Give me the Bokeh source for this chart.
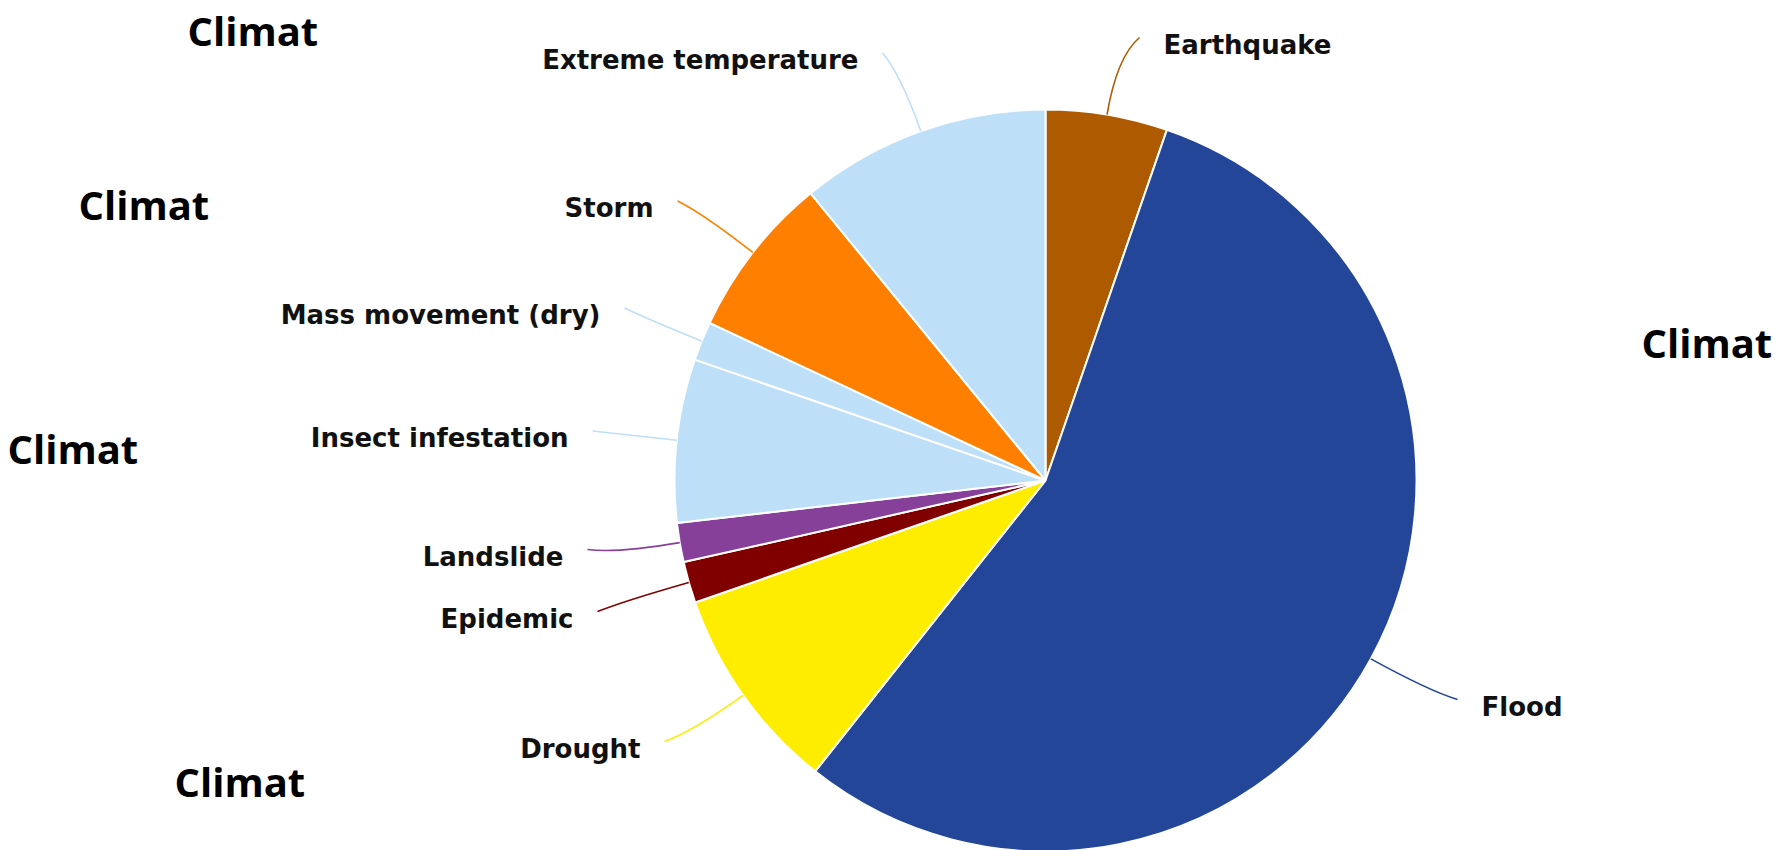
import math
from bokeh.plotting import figure
from bokeh.models import Range1d, ColumnDataSource
from bokeh.core.properties import value
from bokeh.embed import file_html
from bokeh.resources import INLINE

# ---------------- data ----------------
categories = ["Earthquake", "Flood", "Drought", "Epidemic", "Landslide",
              "Insect infestation", "Mass movement (dry)", "Storm",
              "Extreme temperature"]
shares = [5.3, 55.3, 9.0, 1.8, 1.7, 7.1, 1.7, 7.1, 10.9]
slice_colors = ["#AD5A00", "#234698", "#FFED00", "#800000", "#86409A",
                "#BEDFF8", "#BEDFF8", "#FF8000", "#BEDFF8"]

overlay_labels = ["Climat", "Climat", "Climat", "Climat", "Climat"]

# ---------------- layout (screen pixels, y down) ----------------
W, H = 1777, 850
CX, CY, R = 1045, 480, 371

# label anchor x, vertical centre y, alignment
label_x = [1163, 1481, 640, 573, 563, 568, 600, 653, 858]
label_y = [44, 706, 748, 618, 556, 437.5, 314.5, 207.5, 59.5]
label_align = ["left", "left", "right", "right", "right", "right", "right", "right", "right"]
GAP = 24
LEAD_UP = 7

overlay_x = [187, 78, 1641, 7, 174]
overlay_y = [29.5, 204, 341.5, 447.5, 780.5]


def yd(ys):
    return H - ys


p = figure(width=W, height=H, x_range=Range1d(0, W), y_range=Range1d(0, H),
           output_backend="svg", toolbar_location=None,
           x_axis_type=None, y_axis_type=None, min_border=0)
p.outline_line_color = None
p.grid.visible = False
p.background_fill_color = "white"
p.border_fill_color = "white"

total = sum(shares)
starts, ends, mids = [], [], []
cum = 0.0
for v in shares:
    a0 = 2 * math.pi * cum / total
    cum += v
    a1 = 2 * math.pi * cum / total
    starts.append(math.pi / 2 - a0)
    ends.append(math.pi / 2 - a1)
    mids.append((a0 + a1) / 2)

src = ColumnDataSource(dict(start=starts, end=ends, color=slice_colors))
p.wedge(x=CX, y=yd(CY), radius=R, start_angle="start", end_angle="end",
        direction="clock", fill_color="color", line_color="white",
        line_width=2, source=src)

# leader lines
x0s, y0s, x1s, y1s, cxs, cys = [], [], [], [], [], []
for i, m in enumerate(mids):
    dx, dy = math.sin(m), -math.cos(m)  # screen direction (y down)
    sx, sy = CX + R * dx, CY + R * dy
    if label_align[i] == "left":
        ex = label_x[i] - GAP
    else:
        ex = label_x[i] + GAP
    ey = label_y[i] - LEAD_UP
    dist = math.hypot(ex - sx, ey - sy)
    k = 0.7 * dist
    qx, qy = CX + (R + k) * dx, CY + (R + k) * dy
    x0s.append(sx); y0s.append(yd(sy))
    x1s.append(ex); y1s.append(yd(ey))
    cxs.append(qx); cys.append(yd(qy))

lsrc = ColumnDataSource(dict(x0=x0s, y0=y0s, x1=x1s, y1=y1s, cx=cxs, cy=cys,
                             color=slice_colors))
p.quadratic(x0="x0", y0="y0", x1="x1", y1="y1", cx="cx", cy="cy",
            line_color="color", line_width=1.6, source=lsrc)

# slice labels
tsrc = ColumnDataSource(dict(x=label_x, y=[yd(v) for v in label_y],
                             text=categories, align=label_align))
p.text(x="x", y="y", text="text", text_align="align", text_baseline="middle",
       text_font=value("DejaVu Sans"), text_font_style="bold",
       text_font_size="26px", text_color="#111111", source=tsrc)

# overlay "Climat" annotations
osrc = ColumnDataSource(dict(x=overlay_x, y=[yd(v) for v in overlay_y],
                             text=overlay_labels))
p.text(x="x", y="y", text="text", text_align="left", text_baseline="middle",
       text_font=value("Open Sans"), text_font_style="bold",
       text_font_size="40px", text_color="#000000", source=osrc)

open("out.html", "w").write(file_html(p, INLINE))
